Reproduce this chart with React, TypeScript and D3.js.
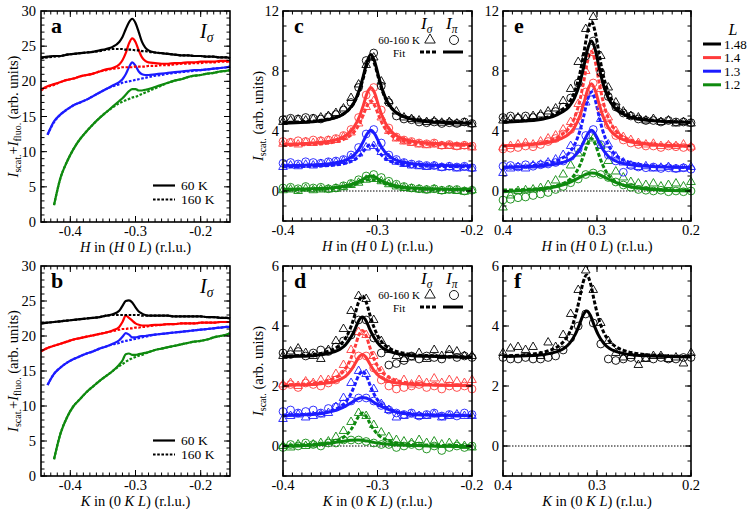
import React from 'react';
import * as d3 from 'd3';

const FONT = "'Liberation Serif', 'Times New Roman', serif";
const BLACK = '#000000';
const RED = '#ff3b3b';
const BLUE = '#1c1cff';
const GREEN = '#0f8a0f';
const PURE_RED = '#ff0000';

// ---- panels a / b : raw scans, 60 K (solid) and 160 K (dotted) ----
const gridAB = [-0.445, -0.435, -0.425, -0.415, -0.405, -0.395, -0.385, -0.375, -0.365, -0.355, -0.345, -0.335, -0.325, -0.32, -0.315, -0.31, -0.305, -0.3, -0.295, -0.29, -0.285, -0.28, -0.27, -0.26, -0.25, -0.24, -0.23, -0.22, -0.21, -0.2, -0.19, -0.18, -0.17, -0.16, -0.155];

const aBlack60 = [23.4, 23.5, 23.6, 23.6, 23.8, 23.9, 24.0, 24.1, 24.2, 24.4, 24.6, 24.9, 25.6, 26.3, 27.4, 28.4, 28.9, 28.3, 27.0, 25.6, 24.8, 24.4, 24.1, 24.0, 23.9, 23.8, 23.7, 23.7, 23.6, 23.6, 23.5, 23.5, 23.4, 23.4, 23.3];
const aBlack160 = [23.3, 23.4, 23.5, 23.6, 23.8, 23.9, 24.0, 24.1, 24.2, 24.3, 24.5, 24.6, 24.6, 24.6, 24.5, 24.5, 24.5, 24.4, 24.4, 24.3, 24.3, 24.2, 24.1, 24.0, 23.9, 23.8, 23.7, 23.7, 23.6, 23.6, 23.5, 23.5, 23.4, 23.4, 23.3];
const aRed60 = [18.8, 19.3, 19.6, 19.9, 20.2, 20.4, 20.7, 20.9, 21.1, 21.4, 21.7, 21.9, 22.4, 23.0, 24.0, 25.4, 26.1, 25.6, 24.4, 23.4, 22.9, 22.7, 22.6, 22.5, 22.5, 22.6, 22.6, 22.7, 22.7, 22.8, 22.8, 22.8, 22.9, 22.9, 22.8];
const aRed160 = [18.7, 19.2, 19.5, 19.9, 20.2, 20.4, 20.7, 20.9, 21.1, 21.4, 21.6, 21.8, 21.9, 22.0, 22.0, 22.0, 22.0, 22.1, 22.1, 22.1, 22.1, 22.2, 22.2, 22.3, 22.3, 22.4, 22.5, 22.5, 22.6, 22.6, 22.7, 22.7, 22.8, 22.8, 22.8];
const aBlue60 = [null, 12.4, 14.3, 15.3, 16.0, 16.6, 17.0, 17.4, 17.9, 18.4, 18.9, 19.4, 19.9, 20.3, 21.0, 22.0, 22.7, 22.2, 21.4, 21.0, 20.9, 20.9, 21.0, 21.1, 21.2, 21.3, 21.4, 21.5, 21.6, 21.6, 21.7, 21.8, 21.9, 22.0, 22.1];
const aBlue160 = [null, 12.4, 14.2, 15.3, 16.0, 16.6, 17.0, 17.4, 17.9, 18.4, 18.9, 19.3, 19.6, 19.8, 19.9, 20.0, 20.1, 20.2, 20.3, 20.4, 20.5, 20.6, 20.8, 20.9, 21.1, 21.2, 21.3, 21.4, 21.5, 21.6, 21.7, 21.8, 21.9, 22.0, 22.1];
const aGreen60 = [null, null, 2.4, 6.3, 8.6, 10.4, 11.8, 12.9, 13.9, 14.8, 15.6, 16.4, 17.2, 17.6, 18.1, 18.6, 18.9, 18.9, 18.7, 18.7, 18.8, 18.9, 19.2, 19.5, 19.8, 20.1, 20.3, 20.6, 20.8, 20.9, 21.1, 21.2, 21.4, 21.5, 21.6];
const aGreen160 = [null, null, 2.4, 6.3, 8.6, 10.4, 11.8, 12.9, 13.9, 14.8, 15.6, 16.3, 16.9, 17.1, 17.3, 17.5, 17.7, 17.8, 18.0, 18.2, 18.4, 18.6, 19.0, 19.4, 19.8, 20.1, 20.3, 20.6, 20.8, 20.9, 21.1, 21.2, 21.4, 21.5, 21.6];

const bBlack60 = [21.8, 21.9, 22.0, 22.1, 22.2, 22.3, 22.4, 22.5, 22.6, 22.7, 22.9, 23.1, 23.6, 24.3, 25.0, 25.1, 24.8, 24.1, 23.5, 23.2, 23.0, 22.9, 22.9, 22.9, 22.9, 22.8, 22.8, 22.8, 22.8, 22.8, 22.7, 22.7, 22.6, 22.6, 22.5];
const bBlack160 = [21.8, 21.9, 22.0, 22.1, 22.2, 22.3, 22.4, 22.5, 22.6, 22.7, 22.9, 23.0, 23.0, 23.0, 23.0, 23.0, 23.0, 23.0, 23.0, 22.9, 22.9, 22.9, 22.9, 22.9, 22.9, 22.8, 22.8, 22.8, 22.8, 22.8, 22.7, 22.7, 22.6, 22.6, 22.5];
const bRed60 = [17.8, 18.3, 18.6, 18.9, 19.2, 19.5, 19.7, 19.9, 20.1, 20.3, 20.5, 20.8, 21.3, 22.0, 22.9, 22.6, 22.2, 21.8, 21.6, 21.5, 21.5, 21.5, 21.6, 21.6, 21.7, 21.7, 21.8, 21.8, 21.8, 21.9, 21.9, 21.9, 22.0, 22.0, 22.0];
const bRed160 = [17.8, 18.3, 18.6, 18.9, 19.2, 19.5, 19.7, 19.9, 20.1, 20.3, 20.5, 20.7, 20.9, 21.0, 21.0, 21.1, 21.1, 21.2, 21.2, 21.3, 21.3, 21.4, 21.5, 21.6, 21.7, 21.7, 21.8, 21.8, 21.8, 21.9, 21.9, 21.9, 22.0, 22.0, 22.0];
const bBlue60 = [null, 13.0, 14.6, 15.5, 16.2, 16.7, 17.1, 17.5, 17.8, 18.2, 18.5, 18.9, 19.4, 19.9, 20.4, 20.2, 19.8, 19.8, 19.9, 20.0, 20.0, 20.1, 20.2, 20.3, 20.4, 20.5, 20.6, 20.7, 20.8, 20.9, 21.0, 21.1, 21.2, 21.3, 21.3];
const bBlue160 = [null, 13.0, 14.6, 15.5, 16.2, 16.7, 17.1, 17.5, 17.8, 18.2, 18.5, 18.8, 19.0, 19.2, 19.3, 19.4, 19.5, 19.6, 19.7, 19.8, 19.9, 20.0, 20.2, 20.3, 20.4, 20.5, 20.6, 20.7, 20.8, 20.9, 21.0, 21.1, 21.2, 21.3, 21.3];
const bGreen60 = [null, null, 2.4, 6.1, 8.4, 10.0, 11.0, 12.0, 12.8, 13.6, 14.3, 15.0, 15.9, 16.5, 17.4, 17.5, 17.3, 17.3, 17.4, 17.5, 17.6, 17.7, 18.0, 18.2, 18.4, 18.6, 18.8, 19.0, 19.2, 19.3, 19.5, 19.8, 20.0, 20.2, 20.4];
const bGreen160 = [null, null, 2.4, 6.1, 8.4, 10.0, 11.0, 12.0, 12.8, 13.6, 14.3, 15.0, 15.7, 16.0, 16.3, 16.6, 16.8, 17.0, 17.2, 17.3, 17.5, 17.7, 18.0, 18.2, 18.4, 18.6, 18.8, 19.0, 19.2, 19.3, 19.5, 19.8, 20.0, 20.2, 20.4];

// ---- panels c-f : background-subtracted scans (points) and fits ----
const scanNeg = [-0.4, -0.392, -0.384, -0.376, -0.368, -0.36, -0.352, -0.344, -0.336, -0.328, -0.32, -0.312, -0.304, -0.296, -0.288, -0.28, -0.272, -0.264, -0.256, -0.248, -0.24, -0.232, -0.224, -0.216, -0.208, -0.2];
const scanPos = [0.4, 0.392, 0.384, 0.376, 0.368, 0.36, 0.352, 0.344, 0.336, 0.328, 0.32, 0.312, 0.304, 0.296, 0.288, 0.28, 0.272, 0.264, 0.256, 0.248, 0.24, 0.232, 0.224, 0.216, 0.208, 0.2];

const cFitX = [-0.4, -0.377, -0.357, -0.347, -0.337, -0.331, -0.325, -0.319, -0.315, -0.311, -0.307, -0.303, -0.299, -0.295, -0.289, -0.283, -0.277, -0.267, -0.257, -0.237, -0.2];
const dFitX = [-0.4, -0.386, -0.366, -0.356, -0.346, -0.34, -0.334, -0.328, -0.324, -0.32, -0.316, -0.312, -0.308, -0.304, -0.298, -0.292, -0.286, -0.276, -0.266, -0.246, -0.2];
const eFitX = [0.4, 0.377, 0.357, 0.347, 0.337, 0.33, 0.324, 0.318, 0.314, 0.31, 0.306, 0.302, 0.298, 0.294, 0.288, 0.282, 0.276, 0.266, 0.256, 0.236, 0.2];
const fFitX = [0.4, 0.381, 0.361, 0.351, 0.341, 0.335, 0.329, 0.323, 0.319, 0.315, 0.311, 0.307, 0.303, 0.299, 0.293, 0.287, 0.281, 0.271, 0.261, 0.241, 0.2];

// c: H scan, negative side
const cBlackPi = [4.75, 4.85, 4.8, 4.9, 4.85, 4.8, 4.95, 5.1, 5.4, 5.9, 6.9, 8.7, 9.2, 7.0, 5.9, 5.0, 4.8, 4.75, 4.6, 4.55, 4.6, 4.5, 4.55, 4.5, 4.6, 4.5];
const cBlackSig = [4.6, 4.7, 4.75, 4.7, 4.8, 4.9, 5.0, 5.2, 5.5, 6.2, 7.1, 8.4, 8.9, 7.3, 6.0, 5.3, 4.9, 4.8, 4.7, 4.6, 4.65, 4.55, 4.6, 4.5, 4.55, 4.45];
const cRedPi = [3.3, 3.25, 3.35, 3.3, 3.4, 3.35, 3.4, 3.5, 3.7, 4.1, 4.9, 6.4, 6.9, 5.4, 4.2, 3.6, 3.4, 3.3, 3.2, 3.15, 3.2, 3.05, 3.1, 3.0, 3.05, 3.0];
const cRedSig = [3.15, 3.2, 3.1, 3.25, 3.2, 3.3, 3.35, 3.4, 3.6, 3.9, 4.5, 5.6, 6.0, 4.9, 4.0, 3.5, 3.3, 3.2, 3.1, 3.05, 3.1, 3.0, 3.0, 2.95, 3.0, 2.9];
const cBluePi = [1.85, 1.9, 1.8, 1.95, 1.9, 1.85, 1.95, 2.0, 2.1, 2.4, 2.9, 3.8, 4.1, 3.2, 2.4, 2.1, 1.9, 1.8, 1.75, 1.7, 1.7, 1.6, 1.65, 1.6, 1.65, 1.55];
const cBlueSig = [1.6, 1.7, 1.65, 1.75, 1.7, 1.8, 1.85, 1.9, 2.0, 2.2, 2.5, 2.9, 3.0, 2.6, 2.2, 1.95, 1.8, 1.7, 1.65, 1.6, 1.65, 1.55, 1.6, 1.5, 1.55, 1.5];
const cGreenPi = [0.2, 0.25, 0.15, 0.3, 0.2, 0.25, 0.15, 0.2, 0.35, 0.5, 0.75, 1.0, 1.1, 0.9, 0.65, 0.45, 0.3, 0.2, 0.15, 0.1, 0.15, 0.05, 0.1, 0.1, 0.0, 0.05];
const cGreenSig = [0.05, 0.1, 0.0, 0.15, 0.05, 0.1, 0.1, 0.15, 0.25, 0.4, 0.55, 0.75, 0.8, 0.65, 0.45, 0.3, 0.2, 0.15, 0.1, 0.05, 0.1, 0.0, 0.05, 0.0, -0.05, 0.05];
const cBlackPiFit = [4.52, 4.58, 4.7, 4.84, 5.09, 5.38, 5.88, 6.78, 7.67, 8.64, 9.1, 8.64, 7.67, 6.78, 5.88, 5.38, 5.09, 4.84, 4.7, 4.58, 4.51];
const cBlackSigFit = [4.57, 4.63, 4.74, 4.87, 5.11, 5.38, 5.86, 6.7, 7.54, 8.46, 8.9, 8.46, 7.54, 6.7, 5.86, 5.38, 5.11, 4.87, 4.74, 4.63, 4.55];
const cRedPiFit = [3.11, 3.16, 3.26, 3.37, 3.58, 3.82, 4.24, 4.98, 5.71, 6.52, 6.9, 6.52, 5.71, 4.98, 4.24, 3.82, 3.58, 3.37, 3.26, 3.16, 3.1];
const cRedSigFit = [3.05, 3.09, 3.16, 3.25, 3.41, 3.6, 3.92, 4.5, 5.08, 5.7, 6.0, 5.7, 5.08, 4.5, 3.92, 3.6, 3.41, 3.25, 3.16, 3.09, 3.04];
const cBluePiFit = [1.69, 1.72, 1.78, 1.85, 1.98, 2.13, 2.39, 2.85, 3.31, 3.81, 4.05, 3.81, 3.31, 2.85, 2.39, 2.13, 1.98, 1.85, 1.78, 1.72, 1.68];
const cBlueSigFit = [1.62, 1.64, 1.68, 1.72, 1.81, 1.9, 2.06, 2.35, 2.64, 2.95, 3.1, 2.95, 2.64, 2.35, 2.06, 1.9, 1.81, 1.72, 1.68, 1.64, 1.62];
const cGreenPiFit = [0.11, 0.14, 0.18, 0.22, 0.3, 0.38, 0.5, 0.66, 0.8, 0.94, 1.0, 0.94, 0.8, 0.66, 0.5, 0.38, 0.3, 0.22, 0.18, 0.14, 0.11];
const cGreenSigFit = [0.08, 0.1, 0.13, 0.17, 0.24, 0.32, 0.42, 0.56, 0.66, 0.73, 0.75, 0.73, 0.66, 0.56, 0.42, 0.32, 0.24, 0.17, 0.13, 0.1, 0.08];

// d: K scan, negative side
const dBlackPi = [3.1, 3.05, 3.15, 3.0, 3.1, 3.2, 3.15, 3.3, 3.5, 3.7, 4.2, 4.2, 3.6, 3.1, 2.7, 2.75, 2.85, 3.0, 2.9, 3.0, 2.95, 2.9, 3.05, 2.95, 3.0, 2.95];
const dBlackSig = [3.0, 3.15, 3.25, 3.1, 3.0, 2.9, 3.2, 3.5, 3.9, 4.5, 5.0, 4.9, 4.2, 3.5, 3.2, 3.0, 2.9, 2.95, 3.1, 2.9, 3.2, 3.0, 3.2, 3.15, 3.0, 3.0];
const dRedPi = [2.0, 2.05, 1.95, 2.1, 2.05, 2.0, 2.1, 2.2, 2.4, 2.7, 3.0, 3.0, 2.6, 2.2, 2.0, 1.9, 1.95, 2.0, 2.05, 1.95, 2.0, 1.9, 2.0, 1.95, 2.0, 1.9];
const dRedSig = [2.05, 2.1, 2.0, 2.15, 2.1, 2.2, 2.2, 2.4, 2.7, 3.2, 3.8, 3.7, 3.0, 2.5, 2.2, 2.1, 2.2, 2.05, 2.2, 2.1, 2.25, 2.1, 2.2, 2.15, 2.1, 2.2];
const dBluePi = [1.15, 1.2, 1.1, 1.15, 1.2, 1.1, 1.25, 1.3, 1.4, 1.5, 1.6, 1.6, 1.5, 1.35, 1.2, 1.1, 1.05, 1.1, 1.0, 1.05, 1.1, 1.0, 1.05, 1.0, 1.1, 1.05];
const dBlueSig = [0.9, 1.0, 1.05, 0.95, 1.0, 1.05, 1.1, 1.3, 1.6, 2.1, 2.5, 2.4, 1.9, 1.4, 1.2, 0.95, 1.0, 1.05, 1.0, 1.0, 1.05, 0.95, 1.0, 1.05, 1.0, 1.0];
const dGreenPi = [-0.05, 0.05, 0.0, 0.1, 0.05, 0.0, 0.1, 0.1, 0.2, 0.2, 0.2, 0.15, 0.1, 0.05, 0.05, -0.05, 0.0, 0.05, 0.0, -0.1, 0.0, -0.15, -0.05, 0.0, -0.05, 0.0];
const dGreenSig = [0.0, -0.05, 0.05, 0.0, 0.05, 0.1, 0.15, 0.3, 0.5, 0.8, 1.1, 1.0, 0.7, 0.45, 0.3, 0.2, 0.15, 0.1, 0.2, 0.1, 0.15, 0.05, 0.1, 0.05, 0.0, -0.05];
const dBlackPiFit = [2.98, 2.99, 3.02, 3.06, 3.14, 3.22, 3.37, 3.63, 3.88, 4.17, 4.3, 4.17, 3.88, 3.63, 3.37, 3.22, 3.14, 3.06, 3.02, 2.99, 2.96];
const dBlackSigFit = [2.99, 3.01, 3.06, 3.12, 3.23, 3.36, 3.58, 3.98, 4.37, 4.8, 5.0, 4.8, 4.37, 3.98, 3.58, 3.36, 3.23, 3.12, 3.06, 3.01, 2.97];
const dRedPiFit = [2.02, 2.03, 2.06, 2.09, 2.14, 2.21, 2.32, 2.53, 2.73, 2.95, 3.05, 2.95, 2.73, 2.53, 2.32, 2.21, 2.14, 2.09, 2.06, 2.03, 2.01];
const dRedSigFit = [2.04, 2.05, 2.1, 2.15, 2.26, 2.37, 2.57, 2.93, 3.28, 3.67, 3.85, 3.67, 3.28, 2.93, 2.57, 2.37, 2.26, 2.15, 2.1, 2.05, 2.02];
const dBluePiFit = [1.01, 1.03, 1.06, 1.1, 1.17, 1.24, 1.33, 1.44, 1.52, 1.59, 1.62, 1.6, 1.54, 1.46, 1.35, 1.26, 1.19, 1.1, 1.06, 1.03, 1.01];
const dBlueSigFit = [1.03, 1.04, 1.08, 1.12, 1.21, 1.3, 1.46, 1.75, 2.04, 2.35, 2.5, 2.35, 2.04, 1.75, 1.46, 1.3, 1.21, 1.12, 1.08, 1.04, 1.02];
const dGreenPiFit = [0.0, 0.01, 0.04, 0.07, 0.11, 0.14, 0.17, 0.19, 0.2, 0.2, 0.19, 0.17, 0.15, 0.12, 0.09, 0.07, 0.05, 0.03, 0.02, 0.0, -0.02];
const dGreenSigFit = [0.02, 0.03, 0.06, 0.09, 0.15, 0.22, 0.34, 0.55, 0.76, 0.99, 1.1, 0.99, 0.76, 0.55, 0.34, 0.22, 0.15, 0.09, 0.06, 0.03, 0.01];

// e: H scan, positive side
const eBlackPi = [4.9, 5.0, 4.85, 5.0, 4.9, 5.0, 5.1, 5.3, 5.6, 6.2, 7.2, 9.0, 10.0, 7.9, 6.3, 5.6, 5.2, 5.0, 4.8, 4.7, 4.7, 4.6, 4.7, 4.6, 4.6, 4.55];
const eBlackSig = [4.7, 4.8, 4.9, 4.8, 5.0, 5.1, 5.3, 5.5, 6.0, 6.8, 8.6, 10.8, 11.6, 9.0, 6.9, 5.9, 5.3, 5.0, 4.9, 4.7, 4.8, 4.6, 4.7, 4.5, 4.6, 4.5];
const eRedPi = [2.8, 2.85, 2.9, 3.0, 2.95, 3.1, 3.3, 3.5, 3.8, 4.1, 5.0, 6.6, 7.2, 5.5, 4.4, 3.7, 3.4, 3.2, 3.1, 3.0, 3.0, 2.9, 3.0, 2.95, 2.9, 2.9];
const eRedSig = [2.9, 3.0, 3.1, 3.2, 3.1, 3.3, 3.5, 3.7, 4.1, 4.6, 5.8, 8.0, 9.2, 6.8, 4.9, 4.0, 3.6, 3.4, 3.2, 3.1, 3.15, 3.0, 3.05, 3.0, 3.1, 2.95];
const eBluePi = [1.65, 1.7, 1.6, 1.75, 1.65, 1.75, 1.8, 1.9, 2.0, 2.3, 2.8, 3.7, 4.1, 3.1, 2.4, 2.0, 1.25, 1.7, 1.6, 1.55, 1.6, 1.5, 1.55, 1.5, 1.55, 1.45];
const eBlueSig = [1.2, 1.5, 1.6, 1.5, 1.7, 1.75, 1.9, 2.1, 2.4, 3.0, 4.3, 5.9, 6.5, 4.8, 3.1, 2.3, 1.9, 1.7, 1.6, 1.65, 1.5, 1.55, 1.6, 1.45, 1.5, 1.6];
const eGreenPi = [-0.6, -0.55, -0.45, -0.4, -0.3, -0.2, -0.1, 0.1, 0.3, 0.55, 0.8, 1.1, 1.2, 1.1, 0.9, 0.6, 0.4, 0.25, 0.1, 0.05, 0.0, 0.05, -0.05, 0.0, -0.05, 0.0];
const eGreenSig = [-1.1, -0.3, 0.0, 0.05, 0.1, 0.2, 0.4, 0.7, 1.1, 1.7, 2.5, 3.3, 3.5, 3.0, 2.0, 1.3, 0.9, 0.6, 0.5, 0.4, 0.5, 0.3, 0.4, 0.5, 0.3, 0.6];
const eBlackPiFit = [4.59, 4.66, 4.8, 4.96, 5.26, 5.6, 6.19, 7.25, 8.31, 9.45, 10.0, 9.45, 8.31, 7.25, 6.19, 5.6, 5.26, 4.96, 4.8, 4.66, 4.57];
const eBlackSigFit = [4.61, 4.7, 4.87, 5.06, 5.44, 5.86, 6.59, 7.9, 9.21, 10.62, 11.3, 10.62, 9.21, 7.9, 6.59, 5.86, 5.44, 5.06, 4.87, 4.7, 4.58];
const eRedPiFit = [3.02, 3.07, 3.18, 3.3, 3.53, 3.79, 4.24, 5.05, 5.86, 6.73, 7.15, 6.73, 5.86, 5.05, 4.24, 3.79, 3.53, 3.3, 3.18, 3.07, 3.0];
const eRedSigFit = [3.0, 3.09, 3.25, 3.43, 3.78, 4.18, 4.87, 6.1, 7.33, 8.66, 9.3, 8.66, 7.33, 6.1, 4.87, 4.18, 3.78, 3.43, 3.25, 3.09, 2.98];
const eBluePiFit = [1.59, 1.62, 1.69, 1.76, 1.9, 2.05, 2.32, 2.8, 3.28, 3.8, 4.05, 3.8, 3.28, 2.8, 2.32, 2.05, 1.9, 1.76, 1.69, 1.62, 1.58];
const eBlueSigFit = [1.58, 1.65, 1.78, 1.92, 2.2, 2.52, 3.07, 4.05, 5.03, 6.09, 6.6, 6.09, 5.03, 4.05, 3.07, 2.52, 2.2, 1.92, 1.78, 1.65, 1.56];
const eGreenPiFit = [-0.05, 0.05, 0.15, 0.25, 0.4, 0.55, 0.72, 0.92, 1.05, 1.15, 1.2, 1.18, 1.1, 0.98, 0.8, 0.62, 0.48, 0.3, 0.2, 0.08, 0.0];
const eGreenSigFit = [0.06, 0.1, 0.19, 0.29, 0.48, 0.7, 1.08, 1.75, 2.42, 3.15, 3.5, 3.15, 2.42, 1.75, 1.08, 0.7, 0.48, 0.29, 0.19, 0.1, 0.04];

// f: K scan, positive side (L = 1.48 only)
const fBlackPi = [2.95, 2.9, 2.9, 2.95, 2.9, 2.9, 2.95, 3.0, 3.2, 3.6, 4.0, 4.4, 4.1, 3.4, 2.9, 2.85, 2.9, 2.95, 2.9, 2.95, 2.9, 2.95, 2.9, 2.9, 2.95, 2.95];
const fBlackSig = [3.1, 3.25, 3.3, 3.2, 3.3, 3.0, 3.45, 3.3, 3.7, 4.4, 5.2, 5.85, 5.2, 4.1, 3.5, 3.1, 2.95, 3.0, 2.7, 2.9, 3.0, 3.0, 2.9, 2.95, 2.75, 3.1];
const fBlackPiFit = [2.98, 3.0, 3.03, 3.08, 3.16, 3.26, 3.43, 3.73, 4.02, 4.35, 4.5, 4.35, 4.02, 3.73, 3.43, 3.26, 3.16, 3.08, 3.03, 3.0, 2.97];
const fBlackSigFit = [3.0, 3.03, 3.1, 3.18, 3.33, 3.5, 3.8, 4.33, 4.85, 5.43, 5.7, 5.43, 4.85, 4.33, 3.8, 3.5, 3.33, 3.18, 3.1, 3.03, 2.98];

const lLabels = ['1.48', '1.4', '1.3', '1.2'];
const lColors = [BLACK, RED, BLUE, GREEN];

type Box = { l: number; r: number; t: number; b: number };
type Lin = d3.ScaleLinear<number, number>;

const triPath = d3.symbol().type(d3.symbolTriangle).size(32)() as string;
const triPathBig = d3.symbol().type(d3.symbolTriangle).size(48)() as string;

function Frame({ box, x, y, xMajor, xMinor, yMajor, yMinor, xFmt, yLabelGap }: {
  box: Box; x: Lin; y: Lin; xMajor: number[]; xMinor: number[]; yMajor: number[]; yMinor: number[];
  xFmt: (v: number) => string; yLabelGap: number;
}) {
  const M = 6, m = 3.5;
  return (
    <g stroke="#000" strokeWidth={1}>
      {xMinor.map((v, i) => (
        <g key={'xm' + i}>
          <line x1={x(v)} x2={x(v)} y1={box.b} y2={box.b - m} />
          <line x1={x(v)} x2={x(v)} y1={box.t} y2={box.t + m} />
        </g>
      ))}
      {xMajor.map((v, i) => (
        <g key={'xM' + i}>
          <line x1={x(v)} x2={x(v)} y1={box.b} y2={box.b - M} />
          <line x1={x(v)} x2={x(v)} y1={box.t} y2={box.t + M} />
          <text x={x(v)} y={box.b + 14} textAnchor="middle" stroke="none" fontSize={14.5}>{xFmt(v)}</text>
        </g>
      ))}
      {yMinor.map((v, i) => (
        <g key={'ym' + i}>
          <line x1={box.l} x2={box.l + m} y1={y(v)} y2={y(v)} />
          <line x1={box.r} x2={box.r - m} y1={y(v)} y2={y(v)} />
        </g>
      ))}
      {yMajor.map((v, i) => (
        <g key={'yM' + i}>
          <line x1={box.l} x2={box.l + M} y1={y(v)} y2={y(v)} />
          <line x1={box.r} x2={box.r - M} y1={y(v)} y2={y(v)} />
          <text x={box.l - yLabelGap} y={y(v) + 5} textAnchor="end" stroke="none" fontSize={14.5}>{v}</text>
        </g>
      ))}
      <rect x={box.l} y={box.t} width={box.r - box.l} height={box.b - box.t} fill="none" strokeWidth={1.6} />
    </g>
  );
}

function XTitle({ cx, y, k }: { cx: number; y: number; k: boolean }) {
  return (
    <text x={cx} y={y} textAnchor="middle" fontSize={14.5}>
      {k ? (
        <>
          <tspan fontStyle="italic">K</tspan> in (0 <tspan fontStyle="italic">K L</tspan>) (r.l.u.)
        </>
      ) : (
        <>
          <tspan fontStyle="italic">H</tspan> in (<tspan fontStyle="italic">H</tspan> 0 <tspan fontStyle="italic">L</tspan>) (r.l.u.)
        </>
      )}
    </text>
  );
}

function YTitle({ cx, cy, fluo }: { cx: number; cy: number; fluo: boolean }) {
  return (
    <text transform={`translate(${cx},${cy}) rotate(-90)`} textAnchor="middle" fontSize={14.5}>
      <tspan fontStyle="italic">I</tspan>
      <tspan fontSize={10} dy={3}>scat.</tspan>
      {fluo ? (
        <>
          <tspan dy={-3}>+</tspan>
          <tspan fontStyle="italic">I</tspan>
          <tspan fontSize={10} dy={3}>fluo.</tspan>
          <tspan dy={-3}> (arb. units)</tspan>
        </>
      ) : (
        <tspan dy={-3}> (arb. units)</tspan>
      )}
    </text>
  );
}

function ISub({ x, y, sub, size }: { x: number; y: number; sub: string; size: number }) {
  return (
    <text x={x} y={y} fontSize={size} fontStyle="italic">
      I<tspan fontSize={size * 0.68} dy={size * 0.22}>{sub}</tspan>
    </text>
  );
}

function RawPanel({ box, letter, k, series }: {
  box: Box; letter: string; k: boolean;
  series: { color: string; warm: (number | null)[]; cold: (number | null)[] }[];
}) {
  const x = d3.scaleLinear().domain([-0.445, -0.155]).range([box.l, box.r]);
  const y = d3.scaleLinear().domain([0, 30]).range([box.b, box.t]);
  const line = d3.line<number | null>()
    .defined(v => v != null)
    .x((_, i) => x(gridAB[i]))
    .y(v => y(v as number))
    .curve(d3.curveMonotoneX);
  const legY = box.t + 174.5;
  return (
    <g>
      {series.map((s, i) => (
        <g key={i} fill="none" stroke={s.color} strokeWidth={2.2}>
          <path d={line(s.cold) || ''} strokeDasharray="2.6,1.6" />
          <path d={line(s.warm) || ''} />
        </g>
      ))}
      <Frame box={box} x={x} y={y} xMajor={[-0.4, -0.3, -0.2]} xMinor={d3.range(-0.44, -0.155, 0.01)}
        yMajor={[0, 5, 10, 15, 20, 25, 30]} yMinor={d3.range(0, 30, 1)} xFmt={v => (v < 0 ? '-' : '') + Math.abs(v).toFixed(1)} yLabelGap={5} />
      <text x={box.l + 10} y={box.t + 22} fontSize={22} fontWeight="bold">{letter}</text>
      <ISub x={box.l + 159} y={box.t + 27} sub="σ" size={20} />
      <line x1={box.l + 112} x2={box.l + 134} y1={legY} y2={legY} stroke="#000" strokeWidth={2.2} />
      <line x1={box.l + 112} x2={box.l + 134} y1={legY + 14} y2={legY + 14} stroke="#000" strokeWidth={2.2} strokeDasharray="2.6,1.6" />
      <text x={box.l + 140} y={legY + 4.5} fontSize={13.5}>60 K</text>
      <text x={box.l + 140} y={legY + 18.5} fontSize={13.5}>160 K</text>
      <YTitle cx={18} cy={(box.t + box.b) / 2} fluo={true} />
      <XTitle cx={(box.l + box.r) / 2} y={box.b + 30} k={k} />
    </g>
  );
}

type ScanSeries = { color: string; sig: number[]; pi: number[]; sigFit: number[]; piFit: number[] };

function ScanPanel({ box, letter, k, positive, yDomain, yMajor, yMinorStep, fitX, series, yTitle, legend }: {
  box: Box; letter: string; k: boolean; positive: boolean; yDomain: [number, number]; yMajor: number[];
  yMinorStep: number; fitX: number[]; series: ScanSeries[]; yTitle: boolean; legend: boolean;
}) {
  const scanX = positive ? scanPos : scanNeg;
  const x = d3.scaleLinear().domain(positive ? [0.4, 0.2] : [-0.4, -0.2]).range([box.l, box.r]);
  const y = d3.scaleLinear().domain(yDomain).range([box.b, box.t]);
  const fit = d3.line<number>().x((_, i) => x(fitX[i])).y(v => y(v)).curve(d3.curveMonotoneX);
  const xMajor = positive ? [0.4, 0.3, 0.2] : [-0.4, -0.3, -0.2];
  const xMinor = d3.range(0, 21).map(i => (positive ? 0.2 : -0.4) + i * 0.01);
  const fmt = (v: number) => (v < 0 ? '-' : '') + Math.abs(v).toFixed(1);
  const lx = box.l, ly = box.t;
  return (
    <g>
      <line x1={box.l} x2={box.r} y1={y(0)} y2={y(0)} stroke="#000" strokeWidth={1} strokeDasharray="1.5,1.5" />
      {series.map((s, si) => (
        <g key={si}>
          <g fill="none" stroke={s.color} strokeWidth={0.9}>
            {s.sig.map((v, i) => (
              <path key={'t' + i} d={triPath} transform={`translate(${x(scanX[i])},${y(v)})`} />
            ))}
            {s.pi.map((v, i) => (
              <circle key={'c' + i} cx={x(scanX[i])} cy={y(v)} r={3.9} />
            ))}
          </g>
          <path d={fit(s.sigFit) || ''} fill="none" stroke={s.color} strokeWidth={3} strokeDasharray="4,2" />
          <path d={fit(s.piFit) || ''} fill="none" stroke={s.color} strokeWidth={3} />
        </g>
      ))}
      <Frame box={box} x={x} y={y} xMajor={xMajor} xMinor={xMinor} yMajor={yMajor}
        yMinor={d3.range(yDomain[0], yDomain[1], yMinorStep)} xFmt={fmt} yLabelGap={4} />
      <text x={box.l + 11} y={box.t + 22} fontSize={22} fontWeight="bold">{letter}</text>
      {legend && (
        <g>
          <ISub x={lx + 138} y={ly + 18} sub="σ" size={17} />
          <ISub x={lx + 163} y={ly + 18} sub="π" size={17} />
          <text x={lx + 137} y={ly + 33} fontSize={11} textAnchor="end">60-160 K</text>
          <path d={triPathBig} transform={`translate(${lx + 147},${ly + 29})`} fill="none" stroke="#000" strokeWidth={0.9} />
          <circle cx={lx + 171} cy={ly + 29} r={4.5} fill="none" stroke="#000" strokeWidth={0.9} />
          <text x={lx + 110} y={ly + 45.5} fontSize={11}>Fit</text>
          <line x1={lx + 137} x2={lx + 155} y1={ly + 41} y2={ly + 41} stroke="#000" strokeWidth={3} strokeDasharray="4,2" />
          <line x1={lx + 160} x2={lx + 180} y1={ly + 41} y2={ly + 41} stroke="#000" strokeWidth={3} />
        </g>
      )}
      {yTitle && <YTitle cx={box.l - 20} cy={(box.t + box.b) / 2} fluo={false} />}
      <XTitle cx={(box.l + box.r) / 2} y={box.b + 30} k={k} />
    </g>
  );
}

const boxA: Box = { l: 41, r: 230, t: 11, b: 222 };
const boxB: Box = { l: 41, r: 230, t: 266, b: 476 };
const boxC: Box = { l: 283, r: 472, t: 11, b: 221 };
const boxD: Box = { l: 283, r: 472, t: 266, b: 476 };
const boxE: Box = { l: 503, r: 691, t: 11, b: 221 };
const boxF: Box = { l: 503, r: 691, t: 266, b: 476 };

export default function App() {
  const seriesA = [
    { color: GREEN, warm: aGreen60, cold: aGreen160 },
    { color: BLUE, warm: aBlue60, cold: aBlue160 },
    { color: PURE_RED, warm: aRed60, cold: aRed160 },
    { color: BLACK, warm: aBlack60, cold: aBlack160 },
  ];
  const seriesB = [
    { color: GREEN, warm: bGreen60, cold: bGreen160 },
    { color: BLUE, warm: bBlue60, cold: bBlue160 },
    { color: PURE_RED, warm: bRed60, cold: bRed160 },
    { color: BLACK, warm: bBlack60, cold: bBlack160 },
  ];
  const seriesC: ScanSeries[] = [
    { color: GREEN, sig: cGreenSig, pi: cGreenPi, sigFit: cGreenSigFit, piFit: cGreenPiFit },
    { color: BLUE, sig: cBlueSig, pi: cBluePi, sigFit: cBlueSigFit, piFit: cBluePiFit },
    { color: RED, sig: cRedSig, pi: cRedPi, sigFit: cRedSigFit, piFit: cRedPiFit },
    { color: BLACK, sig: cBlackSig, pi: cBlackPi, sigFit: cBlackSigFit, piFit: cBlackPiFit },
  ];
  const seriesD: ScanSeries[] = [
    { color: GREEN, sig: dGreenSig, pi: dGreenPi, sigFit: dGreenSigFit, piFit: dGreenPiFit },
    { color: BLUE, sig: dBlueSig, pi: dBluePi, sigFit: dBlueSigFit, piFit: dBluePiFit },
    { color: RED, sig: dRedSig, pi: dRedPi, sigFit: dRedSigFit, piFit: dRedPiFit },
    { color: BLACK, sig: dBlackSig, pi: dBlackPi, sigFit: dBlackSigFit, piFit: dBlackPiFit },
  ];
  const seriesE: ScanSeries[] = [
    { color: GREEN, sig: eGreenSig, pi: eGreenPi, sigFit: eGreenSigFit, piFit: eGreenPiFit },
    { color: BLUE, sig: eBlueSig, pi: eBluePi, sigFit: eBlueSigFit, piFit: eBluePiFit },
    { color: RED, sig: eRedSig, pi: eRedPi, sigFit: eRedSigFit, piFit: eRedPiFit },
    { color: BLACK, sig: eBlackSig, pi: eBlackPi, sigFit: eBlackSigFit, piFit: eBlackPiFit },
  ];
  const seriesF: ScanSeries[] = [
    { color: BLACK, sig: fBlackSig, pi: fBlackPi, sigFit: fBlackSigFit, piFit: fBlackPiFit },
  ];

  return (
    <svg width={756} height={509} viewBox="0 0 756 509"
      style={{ position: 'absolute', left: 0, top: 0, display: 'block', background: '#fff', fontFamily: FONT }}>
      <rect width={756} height={509} fill="#fff" />
      <RawPanel box={boxA} letter="a" k={false} series={seriesA} />
      <RawPanel box={boxB} letter="b" k={true} series={seriesB} />
      <ScanPanel box={boxC} letter="c" k={false} positive={false} yDomain={[-2, 12]} yMajor={[0, 4, 8, 12]}
        yMinorStep={1} fitX={cFitX} series={seriesC} yTitle={true} legend={true} />
      <ScanPanel box={boxD} letter="d" k={true} positive={false} yDomain={[-1, 6]} yMajor={[0, 2, 4, 6]}
        yMinorStep={0.5} fitX={dFitX} series={seriesD} yTitle={true} legend={true} />
      <ScanPanel box={boxE} letter="e" k={false} positive={true} yDomain={[-2, 12]} yMajor={[0, 4, 8, 12]}
        yMinorStep={1} fitX={eFitX} series={seriesE} yTitle={false} legend={false} />
      <ScanPanel box={boxF} letter="f" k={true} positive={true} yDomain={[-1, 6]} yMajor={[0, 2, 4, 6]}
        yMinorStep={0.5} fitX={fFitX} series={seriesF} yTitle={false} legend={false} />
      <g>
        <text x={733} y={35} fontSize={16} fontStyle="italic" textAnchor="middle">L</text>
        {lLabels.map((lab, i) => (
          <g key={lab}>
            <line x1={703} x2={721} y1={44 + i * 13.6} y2={44 + i * 13.6} stroke={lColors[i]} strokeWidth={3} />
            <text x={724} y={48.5 + i * 13.6} fontSize={13}>{lab}</text>
          </g>
        ))}
      </g>
    </svg>
  );
}
